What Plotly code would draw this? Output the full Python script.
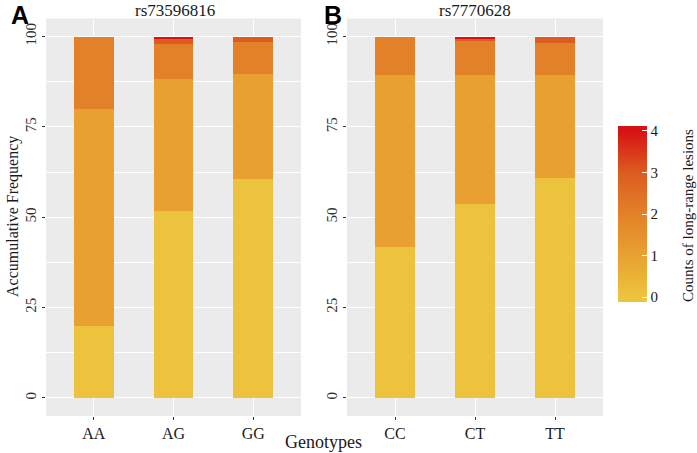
import plotly.graph_objects as go

# ---- data ----
genotypes_a = ["AA", "AG", "GG"]
genotypes_b = ["CC", "CT", "TT"]
snp_a = "rs73596816"
snp_b = "rs7770628"
levels = [0, 1, 2, 3, 4]
# percentage of samples with each count of long-range lesions (per genotype)
pct_a = {
    0: [20.0, 51.8, 60.6],
    1: [60.0, 36.6, 29.1],
    2: [20.0, 9.7, 8.8],
    3: [0.0, 1.3, 1.5],
    4: [0.0, 0.6, 0.0],
}
pct_b = {
    0: [41.8, 53.7, 61.1],
    1: [47.7, 35.8, 28.5],
    2: [10.5, 9.4, 8.7],
    3: [0.0, 0.7, 1.7],
    4: [0.0, 0.4, 0.0],
}
y_ticks = [0, 25, 50, 75, 100]

W, H = 697, 453
SERIF = "Liberation Serif, Times New Roman, serif"

fig = go.Figure()
for lv in levels:
    fig.add_trace(go.Bar(x=genotypes_a, y=pct_a[lv], xaxis="x", yaxis="y",
                         marker=dict(color=[lv] * 3, coloraxis="coloraxis", line=dict(width=0)),
                         width=0.5, showlegend=False, name=str(lv)))
    fig.add_trace(go.Bar(x=genotypes_b, y=pct_b[lv], xaxis="x2", yaxis="y2",
                         marker=dict(color=[lv] * 3, coloraxis="coloraxis", line=dict(width=0)),
                         width=0.5, showlegend=False, name=str(lv)))

cmin, cmax = -0.12, 4.12
stops = [(0, "#EDC33D"), (1, "#E8A131"), (2, "#E38128"), (3, "#DC5C20"), (4, "#D71214")]
colorscale = [[0, stops[0][1]]] + [[(v - cmin) / (cmax - cmin), c] for v, c in stops] + [[1, stops[-1][1]]]

def px_x(p):
    return p / W

def px_y(p):
    return 1 - p / H

ydom = [px_y(416), px_y(18.5)]
axis_common = dict(
    showgrid=True, gridcolor="white", gridwidth=1.1,
    ticks="outside", ticklen=3, tickcolor="#333", tickwidth=1,
    zeroline=False, showline=False, automargin=False,
)
yaxis_common = dict(axis_common, range=[-5, 105], tickvals=y_ticks, tickangle=-90,
                    tickfont=dict(family=SERIF, size=15, color="#333"),
                    minor=dict(tickvals=[12.5, 37.5, 62.5, 87.5], gridcolor="white", gridwidth=0.5, showgrid=True, ticks=""))
xaxis_common = dict(axis_common, range=[-0.6, 2.6], type="category",
                    tickfont=dict(family=SERIF, size=16, color="#1a1a1a"))

ann = dict(xref="paper", yref="paper", showarrow=False, borderpad=0, xanchor="center", yanchor="middle")
fig.update_layout(
    width=W, height=H,
    margin=dict(l=0, r=0, t=0, b=0),
    paper_bgcolor="white", plot_bgcolor="#EBEBEB",
    barmode="stack", bargap=0,
    xaxis=dict(xaxis_common, domain=[px_x(46), px_x(301)], anchor="y"),
    yaxis=dict(yaxis_common, domain=ydom, anchor="x"),
    xaxis2=dict(xaxis_common, domain=[px_x(347), px_x(603)], anchor="y2"),
    yaxis2=dict(yaxis_common, domain=ydom, anchor="x2"),
    coloraxis=dict(
        cmin=cmin, cmax=cmax, colorscale=colorscale,
        colorbar=dict(
            x=px_x(618), xanchor="left", xpad=0, ypad=0,
            y=px_y(214), yanchor="middle",
            lenmode="pixels", len=176, thickness=29, thicknessmode="pixels",
            outlinewidth=0, tickvals=levels, ticks="inside", ticklen=5,
            tickcolor="white", tickwidth=1, tickprefix="\u00a0",
            tickfont=dict(family=SERIF, size=15, color="#1a1a1a"),
        ),
    ),
    annotations=[
        dict(ann, text=snp_a, x=px_x(175), y=1, yanchor="top",
             font=dict(family=SERIF, size=17, color="#1a1a1a")),
        dict(ann, text=snp_b, x=px_x(475), y=1, yanchor="top",
             font=dict(family=SERIF, size=17, color="#1a1a1a")),
        dict(ann, text="<b>A</b>", x=px_x(20), y=1, yanchor="top",
             font=dict(family="Liberation Sans, Arial, sans-serif", size=25, color="black")),
        dict(ann, text="<b>B</b>", x=px_x(333), y=1, yanchor="top",
             font=dict(family="Liberation Sans, Arial, sans-serif", size=25, color="black")),
        dict(ann, text="Accumulative Frequency", x=px_x(13), y=px_y(217),
             textangle=-90, font=dict(family=SERIF, size=16, color="#1a1a1a")),
        dict(ann, text="Genotypes", x=px_x(323), y=0, yanchor="bottom",
             font=dict(family=SERIF, size=18, color="#1a1a1a")),
        dict(ann, text="Counts of long-range lesions", x=1, xanchor="right", y=px_y(216),
             textangle=-90, font=dict(family=SERIF, size=15, color="#1a1a1a")),
    ],
)

fig.write_html("out.html", config={"displayModeBar": False},
               post_script="document.body.style.margin='0';document.body.style.overflow='hidden';")
